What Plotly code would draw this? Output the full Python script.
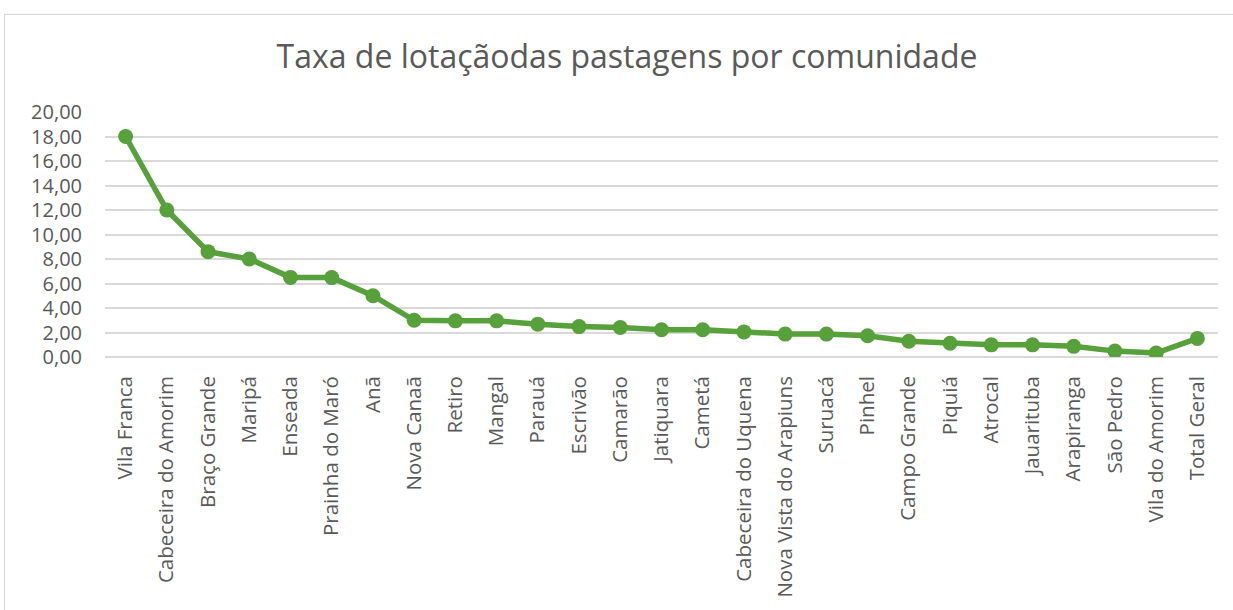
import plotly.graph_objects as go

# Comunidades e taxa de lotação das pastagens
comunidades = [
    "Vila Franca", "Cabeceira do Amorim", "Braço Grande", "Maripá", "Enseada",
    "Prainha do Maró", "Anã", "Nova Canaã", "Retiro", "Mangal", "Parauá",
    "Escrivão", "Camarão", "Jatiquara", "Cametá", "Cabeceira do Uquena",
    "Nova Vista do Arapiuns", "Suruacá", "Pinhel", "Campo Grande", "Piquiá",
    "Atrocal", "Jauarituba", "Arapiranga", "São Pedro", "Vila do Amorim",
    "Total Geral",
]
taxa_lotacao = [
    18.00, 12.00, 8.60, 8.00, 6.50, 6.48, 5.00, 3.00, 2.95, 2.95, 2.68,
    2.48, 2.41, 2.23, 2.23, 2.05, 1.87, 1.87, 1.74, 1.28, 1.12, 0.99,
    0.99, 0.87, 0.48, 0.32, 1.52,
]
y_ticks = [0, 2, 4, 6, 8, 10, 12, 14, 16, 18, 20]
y_tick_labels = ["0,00", "2,00", "4,00", "6,00", "8,00", "10,00",
                 "12,00", "14,00", "16,00", "18,00", "20,00"]

GREEN = "#56A13A"
TEXT = "#595959"
GRID = "#D9D9D9"
FONT = "Open Sans"

fig = go.Figure()
fig.add_trace(go.Scatter(
    x=comunidades,
    y=taxa_lotacao,
    mode="lines+markers",
    line=dict(color=GREEN, width=5.5),
    marker=dict(color=GREEN, size=15),
    hoverinfo="x+y",
    showlegend=False,
))

W, H = 1233, 610
L, R, T, B = 105, 15, 112, 251
pw, ph = W - L - R, H - T - B

def px_to_paper_x(px):
    return (px - L) / pw

def px_to_paper_y(py):
    return (H - B - py) / ph

fig.update_layout(
    width=W, height=H,
    margin=dict(l=L, r=R, t=T, b=B, pad=0),
    paper_bgcolor="white",
    plot_bgcolor="white",
    font=dict(family=FONT, color=TEXT, size=20),
    title=dict(
        text="Taxa de lotaçãodas pastagens por comunidade",
        x=627 / W, xref="container", xanchor="center",
        y=1 - 57 / H, yref="container", yanchor="middle",
        font=dict(family=FONT, size=32, color=TEXT),
    ),
    xaxis=dict(
        type="category",
        range=[-0.5, len(comunidades) - 0.5],
        tickangle=-90,
        tickfont=dict(family=FONT, size=20.5, color=TEXT),
        showgrid=False,
        showline=False,
        zeroline=False,
        ticks="",
        ticklabelstandoff=14,
        fixedrange=True,
    ),
    yaxis=dict(
        range=[0, 20],
        tickmode="array",
        tickvals=y_ticks,
        ticktext=y_tick_labels,
        tickfont=dict(family=FONT, size=20, color=TEXT),
        showgrid=True,
        gridcolor=GRID,
        gridwidth=1.5,
        zeroline=True,
        zerolinecolor=GRID,
        zerolinewidth=1.5,
        showline=False,
        ticks="",
        ticklabelstandoff=22,
        fixedrange=True,
    ),
    shapes=[dict(
        type="rect", xref="paper", yref="paper",
        x0=px_to_paper_x(4.5), x1=px_to_paper_x(1260),
        y0=px_to_paper_y(640), y1=px_to_paper_y(13.5),
        line=dict(color="#D9D9D9", width=1.2),
        fillcolor="rgba(0,0,0,0)",
        layer="below",
    )],
)

fig.write_html("out.html")
